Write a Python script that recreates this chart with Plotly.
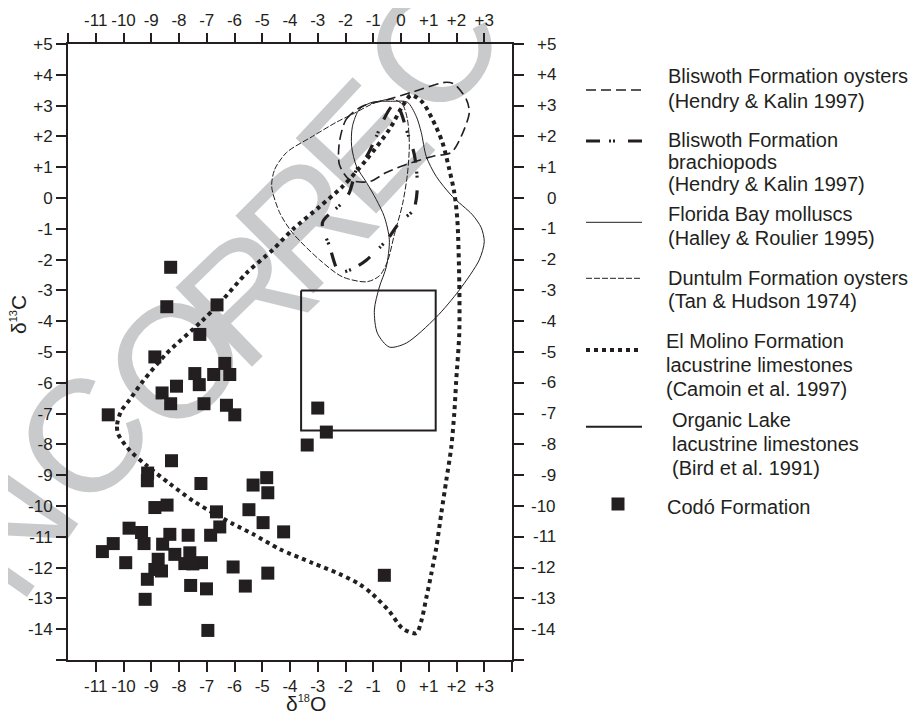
import plotly.graph_objects as go

# ---------------- data (delta18O, delta13C) ----------------
codo_d18O = [-8.30, -8.44, -6.63, -7.25, -8.87, -6.35, -7.43, -6.75, -6.17, -8.09,
             -7.27, -8.61, -8.30, -7.10, -6.29, -5.99, -10.55, -8.27, -9.13, -9.14,
             -7.21, -5.33, -4.84, -4.80, -8.87, -8.43, -6.65, -5.48, -4.97, -6.53,
             -6.86, -9.80, -9.35, -9.26, -10.37, -10.76, -8.33, -8.59, -7.67, -8.15,
             -7.61, -7.79, -7.19, -7.50, -9.92, -8.75, -8.87, -8.63, -9.14, -6.05,
             -4.80, -7.58, -7.01, -5.61, -9.22, -6.96, -3.00, -2.69, -3.38, -0.60, -4.23]
codo_d13C = [-2.25, -3.53, -3.47, -4.43, -5.16, -5.37, -5.70, -5.73, -5.73, -6.11,
             -6.06, -6.33, -6.68, -6.68, -6.73, -7.04, -7.04, -8.53, -8.93, -9.18,
             -9.27, -9.32, -9.08, -9.57, -10.05, -9.97, -10.19, -10.12, -10.54, -10.68,
             -10.95, -10.72, -10.86, -11.22, -11.22, -11.48, -10.92, -11.24, -10.95, -11.57,
             -11.52, -11.87, -11.84, -11.88, -11.84, -11.73, -12.06, -12.11, -12.38, -11.98,
             -12.18, -12.58, -12.69, -12.60, -13.03, -14.04, -6.82, -7.60, -8.02, -12.25, -10.84]

molino_d18O = [-10.20, -10.23, -10.09, -9.77, -9.30, -8.44, -7.25, -6.53, -5.56, -4.62,
               -3.91, -2.93, -2.11, -1.24, -0.42, 0.12, 0.37, 0.77, 1.13, 1.49,
               1.74, 1.92, 2.03, 2.10, 2.10, 1.99, 1.92, 1.81, 1.63, 1.45,
               1.27, 1.09, 0.91, 0.73, 0.55, 0.05, -0.42, -1.03, -1.50, -2.21,
               -3.19, -4.37, -5.34, -6.06, -6.78, -7.50, -8.33, -9.16, -9.77, -10.20]
molino_d13C = [-7.65, -7.35, -6.93, -6.54, -5.95, -5.04, -4.06, -3.41, -2.43, -1.68,
               -1.03, -0.28, 0.37, 1.25, 2.23, 3.08, 3.34, 3.11, 2.56, 1.81,
               0.93, 0.18, -0.70, -2.76, -4.39, -5.92, -6.99, -8.10, -9.18, -10.25,
               -11.36, -12.21, -12.99, -13.74, -14.13, -13.97, -13.42, -12.86, -12.54, -12.21,
               -11.85, -11.40, -10.91, -10.58, -10.22, -9.83, -9.28, -8.69, -8.20, -7.65]

florida_d18O = [-0.31, 0.23, 0.55, 0.73, 0.91, 1.27, 1.85, 2.57, 2.89, 3.00,
                2.82, 2.10, 1.27, 0.19, -0.42, -0.85, -0.96, -0.78, -0.53, -0.42,
                -0.60, -0.89, -1.24, -1.60, -1.78, -1.75, -1.50, -1.03, -0.31]
florida_d13C = [3.14, 3.11, 2.65, 2.13, 1.35, 0.70, 0.05, -0.54, -0.96, -1.42,
                -2.01, -2.99, -3.87, -4.71, -4.84, -4.39, -3.64, -2.89, -2.24, -1.36,
                -0.61, -0.05, 0.50, 1.02, 1.68, 2.33, 2.88, 3.11, 3.14]

duntulm_d18O = [-4.66, -4.55, -4.12, -3.19, -2.33, -1.75, -0.89, -0.31, 0.05, 0.23,
                0.30, 0.23, 0.05, -0.24, -0.49, -0.78, -1.24, -2.11, -2.93, -3.91,
                -4.37, -4.66]
duntulm_d13C = [0.37, 0.93, 1.48, 2.00, 2.46, 2.72, 3.11, 3.21, 3.04, 2.56,
                1.74, 0.76, -0.22, -1.19, -2.07, -2.53, -2.72, -2.56, -2.01, -1.13,
                -0.48, 0.37]

oyster_d18O = [-2.22, -1.97, -1.39, -0.42, 0.41, 1.63, 1.92, 2.35, 2.46, 2.17,
               1.81, 1.13, 0.19, -0.53, -1.14, -1.86, -2.22, -2.22]
oyster_d13C = [1.81, 2.56, 2.98, 3.21, 3.44, 3.76, 3.70, 3.21, 2.78, 2.00,
               1.48, 1.35, 1.09, 0.83, 0.53, 0.60, 1.09, 1.81]

brach_d18O = [-0.31, -0.06, 0.19, 0.48, 0.59, 0.45, -0.06, -0.42, -0.78, -1.24,
              -1.68, -2.22, -2.57, -2.83, -2.11, -1.86, -1.60, -1.24, -0.89, -0.67, -0.31]
brach_d13C = [2.98, 2.88, 2.23, 1.41, 0.37, -0.38, -0.80, -1.26, -1.62, -2.01,
              -2.27, -2.40, -1.58, -0.80, -0.15, 0.18, 0.93, 1.35, 2.00, 2.46, 2.98]

organic_d18O = [-3.6, 1.25, 1.25, -3.6, -3.6]
organic_d13C = [-3.0, -3.0, -7.55, -7.55, -3.0]

x_ticks = list(range(-11, 4))
y_ticks = list(range(-14, 6))

legend_entries = [
    ["Bliswoth Formation oysters", "(Hendry & Kalin 1997)"],
    ["Bliswoth Formation", "brachiopods", "(Hendry & Kalin 1997)"],
    ["Florida Bay molluscs", "(Halley & Roulier 1995)"],
    ["Duntulm Formation oysters", "(Tan & Hudson 1974)"],
    ["El Molino Formation", "lacustrine limestones", "(Camoin et al. 1997)"],
    ["Organic Lake", "lacustrine limestones", "(Bird et al. 1991)"],
    ["Codó Formation"],
]

# watermark letters of "UNCORRECTED" (letter, page x, page y, CCW rotation)
watermark = [("N", -5, 520, 55), ("C", 72, 428, 48),
             ("O", 165, 350, 45), ("R", 235, 285, 44), ("R", 295, 212, 45),
             ("E", 352, 136, 47), ("C", 420, 40, 55), ("T", 480, -50, 58)]

# ---------------- styles ----------------
FONT = "Liberation Sans, Arial, sans-serif"
BLACK = "#231f20"
GRAY = "#c9cacc"
styles = {
    "oyster": dict(width=1.6, dash="10px,5px"),
    "brach": dict(width=3.2, dash="14px,9px,2px,2px,2px,13px"),
    "florida": dict(width=1.0, dash="solid"),
    "duntulm": dict(width=1.0, dash="6px,2px"),
    "molino": dict(width=4.0, dash="4px,4px"),
    "organic": dict(width=2.0, dash="solid"),
}

fig = go.Figure()

def add_line(xs, ys, key, smooth=True):
    fig.add_trace(go.Scatter(
        x=xs, y=ys, mode="lines",
        line=dict(color=BLACK, width=styles[key]["width"], dash=styles[key]["dash"],
                  shape="spline" if smooth else "linear", smoothing=0.8),
        hoverinfo="skip", showlegend=False))

add_line(molino_d18O, molino_d13C, "molino")
add_line(florida_d18O, florida_d13C, "florida")
add_line(duntulm_d18O, duntulm_d13C, "duntulm")
add_line(oyster_d18O, oyster_d13C, "oyster")
add_line(brach_d18O, brach_d13C, "brach")
add_line(organic_d18O, organic_d13C, "organic", smooth=False)

# Codó points (drawn on the top x axis, which matches the bottom one)
fig.add_trace(go.Scatter(
    x=codo_d18O, y=codo_d13C, mode="markers", xaxis="x2",
    marker=dict(symbol="square", size=13, color=BLACK, line=dict(width=0)),
    hoverinfo="skip", showlegend=False))

def fmt(v):
    return ("+%d" % v) if v > 0 else ("%d" % v)

tick_font = dict(family=FONT, size=17, color=BLACK)
common = dict(ticks="outside", ticklen=10, tickwidth=1.5, tickcolor=BLACK,
              showgrid=False, zeroline=False, tickfont=tick_font, automargin=False)

bottom_vals = x_ticks + [4]
top_vals = [-12] + x_ticks
left_vals = [-15] + y_ticks

# the page adds an 8px body margin, so figure margins are 8px smaller on left/top
fig.update_layout(
    width=920, height=716,
    margin=dict(l=60, r=416, t=36, b=64, autoexpand=False),
    paper_bgcolor="white", plot_bgcolor="rgba(0,0,0,0)",
    showlegend=False,
    xaxis=dict(range=[-12, 4], tickvals=bottom_vals,
               ticktext=[fmt(v) if v in x_ticks else "" for v in bottom_vals],
               showline=True, linecolor=BLACK, linewidth=2, mirror=True, **common),
    xaxis2=dict(range=[-12, 4], overlaying="x", side="top", anchor="y", matches="x",
                tickvals=top_vals,
                ticktext=[fmt(v) if v in x_ticks else "" for v in top_vals],
                showline=False, **common),
    yaxis=dict(range=[-15, 5], tickvals=left_vals,
               ticktext=[fmt(v) if v in y_ticks else "" for v in left_vals],
               showline=True, linecolor=BLACK, linewidth=2, mirror="ticks", **common),
)

# page-pixel -> paper helpers (plot area spans x 68..512, y 44..660 on the page)
L, T, W, H = 68, 44, 444, 616
def px(xp):
    return (xp - L) / W
def py(yp):
    return (T + H - yp) / H

# watermark, drawn beneath the data
for ch, wx, wy, rot in watermark:
    fig.add_shape(type="rect", xref="paper", yref="paper", layer="below",
                  x0=px(wx - 1), x1=px(wx + 1), y0=py(wy + 1), y1=py(wy - 1),
                  line=dict(width=0), fillcolor="rgba(0,0,0,0)",
                  label=dict(text=ch, textangle=-rot, textposition="middle center",
                             font=dict(family=FONT, size=160, color=GRAY)))

# right-side tick labels (right aligned like the reference)
for v in y_ticks:
    fig.add_annotation(x=px(558), xref="paper", y=v, yref="y", text=fmt(v),
                       showarrow=False, xanchor="right", yanchor="middle",
                       font=tick_font)

# axis titles
fig.add_annotation(x=px(306), xref="paper", y=py(703), yref="paper",
                   text="δ<sup><span style='font-size:11px'>18</span></sup>O",
                   showarrow=False, xanchor="center", yanchor="middle",
                   font=dict(family=FONT, size=21, color=BLACK))
fig.add_annotation(x=px(18), xref="paper", y=py(315), yref="paper",
                   text="δ<sup><span style='font-size:11px'>13</span></sup>C",
                   showarrow=False, textangle=-90, xanchor="center", yanchor="middle",
                   font=dict(family=FONT, size=21, color=BLACK))

# ---------------- legend ----------------
sample_y = [90, 141, 222.3, 278.3, 350, 426.7]
sample_keys = ["oyster", "brach", "florida", "duntulm", "molino", "organic"]
for yy, key in zip(sample_y, sample_keys):
    fig.add_shape(type="line", xref="paper", yref="paper",
                  x0=px(586), x1=px(642), y0=py(yy), y1=py(yy),
                  line=dict(color=BLACK, width=styles[key]["width"], dash=styles[key]["dash"]))
fig.add_shape(type="rect", xref="paper", yref="paper",
              x0=px(611.5), x1=px(624.5), y0=py(510.5), y1=py(497.5),
              line=dict(width=0), fillcolor=BLACK)

text_y = [[76, 100.5], [139.5, 161.5, 183.5], [214, 238], [278, 301],
          [341, 365, 389], [420, 444, 467.5], [506.5]]
text_x = [666, 666, 666, 666, 664, 670, 665]
for lines, ys, xx in zip(legend_entries, text_y, text_x):
    for t, yy in zip(lines, ys):
        fig.add_annotation(x=px(xx), xref="paper", y=py(yy), yref="paper", text=t,
                           showarrow=False, xanchor="left", yanchor="middle",
                           font=dict(family=FONT, size=20, color=BLACK))

fig.write_html("out.html")
